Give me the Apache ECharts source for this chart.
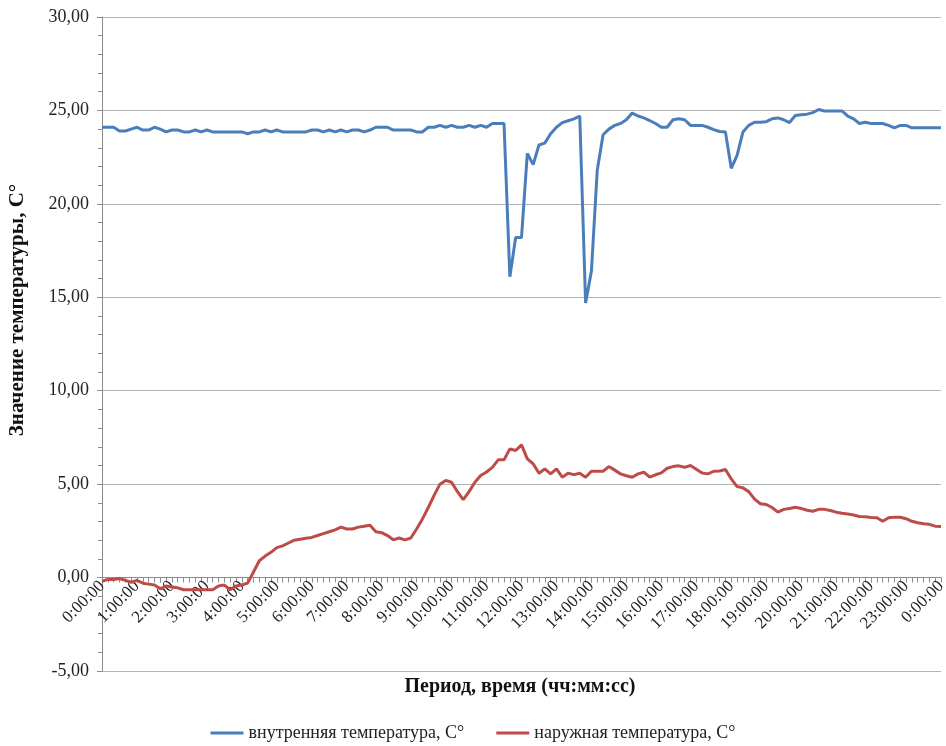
<!DOCTYPE html>
<html>
<head>
<meta charset="utf-8">
<script src="https://cdn.jsdelivr.net/npm/echarts@6/dist/echarts.min.js"></script>
<style>
  html, body { margin: 0; padding: 0; background: #fff; }
  #chart { width: 946px; height: 746px; }
</style>
</head>
<body>
<div id="chart"></div>
<script>
// 10-minute samples, 0:00:00 .. 0:00:00 next day (145 points)
const categories = [];
for (let h = 0; h <= 24; h++) {
  for (let m = 0; m < 60; m += 10) {
    if (h === 24 && m > 0) break;
    categories.push((h % 24) + ':' + (m < 10 ? '0' + m : m) + ':00');
  }
}

const insideTemp = [
  24.1, 24.1, 24.1, 23.9, 23.9, 24.0, 24.1, 23.95, 23.95, 24.1,
  24.0, 23.85, 23.95, 23.95, 23.85, 23.85, 23.95, 23.85, 23.95, 23.85,
  23.85, 23.85, 23.85, 23.85, 23.85, 23.75, 23.85, 23.85, 23.95, 23.85,
  23.95, 23.85, 23.85, 23.85, 23.85, 23.85, 23.95, 23.95, 23.85, 23.95,
  23.85, 23.95, 23.85, 23.95, 23.95, 23.85, 23.95, 24.1, 24.1, 24.1,
  23.95, 23.95, 23.95, 23.95, 23.85, 23.85, 24.1, 24.1, 24.2, 24.1,
  24.2, 24.1, 24.1, 24.2, 24.1, 24.2, 24.1, 24.3, 24.3, 24.3,
  16.1, 18.2, 18.2, 22.7, 22.1, 23.15, 23.25, 23.75, 24.1, 24.35,
  24.45, 24.55, 24.7, 14.7, 16.4, 21.8, 23.7, 24.0, 24.2, 24.3,
  24.5, 24.86, 24.7, 24.6, 24.46, 24.3, 24.1, 24.1, 24.5, 24.55,
  24.5, 24.2, 24.2, 24.2, 24.1, 23.97, 23.87, 23.84, 21.9, 22.6,
  23.84, 24.2, 24.37, 24.37, 24.4, 24.55, 24.6, 24.5, 24.35, 24.73,
  24.77, 24.8, 24.88, 25.05, 24.97, 24.97, 24.97, 24.97, 24.7, 24.55,
  24.3, 24.37, 24.3, 24.3, 24.3, 24.2, 24.07, 24.2, 24.2, 24.07,
  24.07, 24.07, 24.07, 24.07, 24.07
];

const outsideTemp = [
  -0.2, -0.1, -0.1, -0.05, -0.15, -0.25, -0.15, -0.3, -0.35, -0.4,
  -0.6, -0.45, -0.5, -0.55, -0.65, -0.65, -0.65, -0.65, -0.65, -0.65,
  -0.45, -0.4, -0.65, -0.45, -0.4, -0.3, 0.3, 0.9, 1.15, 1.35,
  1.6, 1.7, 1.85, 2.0, 2.05, 2.1, 2.15, 2.25, 2.35, 2.45,
  2.55, 2.7, 2.6, 2.6, 2.7, 2.75, 2.8, 2.45, 2.4, 2.25,
  2.02, 2.12, 2.02, 2.12, 2.6, 3.14, 3.75, 4.4, 5.0, 5.2,
  5.1, 4.6, 4.17, 4.6, 5.1, 5.46, 5.65, 5.9, 6.3, 6.3,
  6.89, 6.8, 7.1, 6.35, 6.09, 5.58, 5.82, 5.55, 5.82, 5.37,
  5.58, 5.51, 5.58, 5.37, 5.69, 5.69, 5.69, 5.94, 5.75, 5.55,
  5.45, 5.37, 5.55, 5.64, 5.37, 5.5, 5.6, 5.85, 5.94, 5.98,
  5.9, 6.0, 5.8, 5.6, 5.55, 5.69, 5.7, 5.78, 5.28, 4.87,
  4.8, 4.6, 4.2, 3.95, 3.91, 3.75, 3.5, 3.65, 3.7, 3.76,
  3.7, 3.6, 3.55, 3.65, 3.65, 3.59, 3.5, 3.44, 3.4, 3.35,
  3.27, 3.25, 3.22, 3.2, 3.01, 3.2, 3.23, 3.23, 3.15, 3.01,
  2.93, 2.88, 2.85, 2.75, 2.73
];

const seriesNames = ['внутренняя температура, С°', 'наружная температура, С°'];
const seriesColors = ['#4a7ebb', '#be4b48'];
const yTitle = 'Значение температуры, С°';
const xTitle = 'Период, время (чч:мм:сс)';

const serif = '"Liberation Serif", "DejaVu Serif", serif';

const chart = echarts.init(document.getElementById('chart'), null, { renderer: 'canvas' });

const option = {
  animation: false,
  backgroundColor: '#ffffff',
  grid: {
    left: 102,
    right: 5,
    top: 17,
    bottom: 75,
    containLabel: false,
    outerBoundsMode: 'none'
  },
  legend: {
    bottom: 4,
    left: 'center',
    padding: 0,
    itemWidth: 33,
    itemHeight: 3,
    itemGap: 32,
    icon: 'rect',
    textStyle: { fontFamily: serif, fontSize: 18, color: '#222' },
    data: seriesNames
  },
  graphic: [
    {
      type: 'text',
      x: 18,
      y: 310,
      rotation: Math.PI / 2,
      style: {
        text: yTitle,
        font: 'bold 21px ' + serif,
        fill: '#111',
        align: 'center',
        verticalAlign: 'middle'
      }
    },
    {
      type: 'text',
      x: 520,
      y: 687,
      style: {
        text: xTitle,
        font: 'bold 20px ' + serif,
        fill: '#111',
        align: 'center',
        verticalAlign: 'middle'
      }
    }
  ],
  xAxis: {
    type: 'category',
    boundaryGap: false,
    data: categories,
    axisLine: { onZero: true, lineStyle: { color: '#8c8c8c', width: 1 } },
    axisTick: { show: true, interval: 0, length: 5, lineStyle: { color: '#8c8c8c' } },
    axisLabel: {
      interval: 5,
      rotate: 45,
      margin: 6,
      fontFamily: serif,
      fontSize: 17,
      color: '#222'
    },
    splitLine: { show: false }
  },
  yAxis: {
    type: 'value',
    min: -5,
    max: 30,
    interval: 5,
    axisLine: { show: true, lineStyle: { color: '#8c8c8c', width: 1 } },
    axisTick: { show: true, length: 5, lineStyle: { color: '#8c8c8c' } },
    minorTick: { show: true, splitNumber: 5, length: 4, lineStyle: { color: '#8c8c8c' } },
    axisLabel: {
      margin: 13,
      fontFamily: serif,
      fontSize: 18,
      color: '#222',
      formatter: (v) => v.toFixed(2).replace('.', ',')
    },
    splitLine: { lineStyle: { color: '#b4b4b4', width: 1 } }
  },
  series: [
    {
      name: seriesNames[0],
      type: 'line',
      data: insideTemp,
      symbol: 'none',
      color: seriesColors[0],
      lineStyle: { color: seriesColors[0], width: 3 }
    },
    {
      name: seriesNames[1],
      type: 'line',
      data: outsideTemp,
      symbol: 'none',
      color: seriesColors[1],
      lineStyle: { color: seriesColors[1], width: 3 }
    }
  ]
};

chart.setOption(option);

// the category axis should cross the value axis at 0; shift it there using the y scale
const yMinPx = chart.convertToPixel({ yAxisIndex: 0 }, -5);
const yZeroPx = chart.convertToPixel({ yAxisIndex: 0 }, 0);
chart.setOption({ xAxis: { offset: yZeroPx - yMinPx } });
</script>
</body>
</html>
